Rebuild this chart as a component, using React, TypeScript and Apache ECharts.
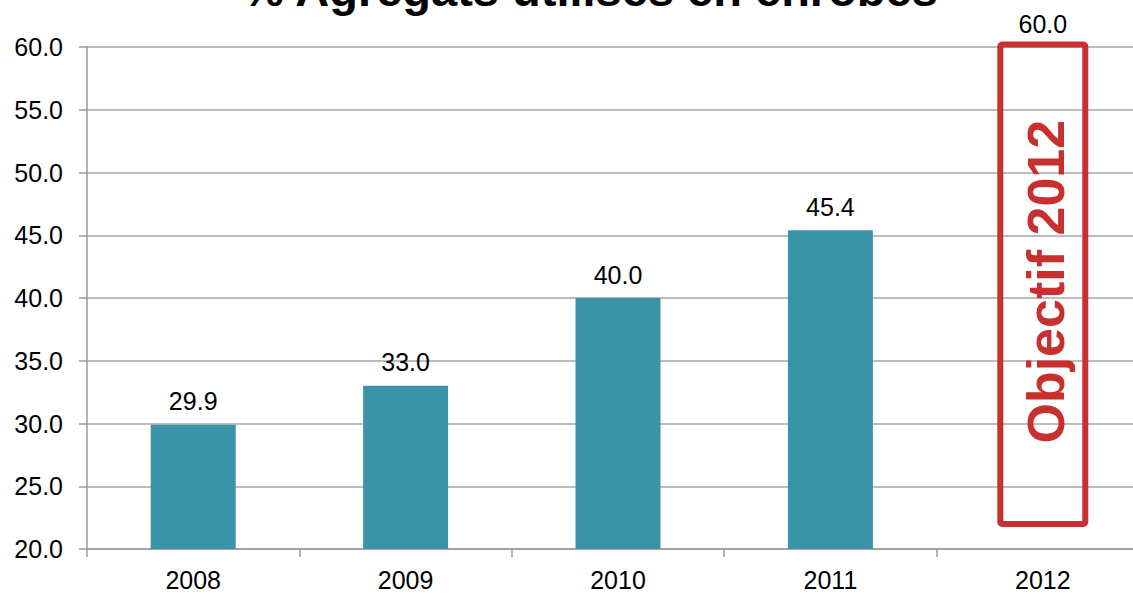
import React, { useEffect, useRef } from "react";
import * as echarts from "echarts";

const categories = ["2008", "2009", "2010", "2011", "2012"];
const values = [29.9, 33.0, 40.0, 45.4, 60.0];
const targetIndex = 4;
const yMin = 20;
const yMax = 60;
const yInterval = 5;
const titleText = "% Agrégats utilisés en enrobés";
const objectiveText = "Objectif 2012";
const objectiveBoxRange = [22.0, 60.2];
const objectiveTextValue = 41.3;

const FONT = "'Liberation Sans', Arial, sans-serif";
const BAR_COLOR = "#3A93A8";
const RED = "#C83030";

export default function App() {
  const ref = useRef<HTMLDivElement>(null);

  useEffect(() => {
    document.body.style.margin = "0";
    const chart = echarts.init(ref.current!, null, { renderer: "svg" });
    const option: any = {
      animation: false,
      backgroundColor: "#ffffff",
      grid: { left: 87, top: 47, width: 1062, height: 502, containLabel: false },
      xAxis: {
        type: "category",
        data: categories,
        boundaryGap: true,
        axisLine: { show: true, lineStyle: { color: "#9a9a9a", width: 1.5 } },
        axisTick: { show: true, alignWithLabel: false, length: 8, lineStyle: { color: "#9a9a9a", width: 1.5 } },
        axisLabel: { color: "#000", fontSize: 25, fontFamily: FONT, margin: 18 },
        splitLine: { show: false },
      },
      yAxis: {
        type: "value",
        min: yMin,
        max: yMax,
        interval: yInterval,
        axisLine: { show: true, lineStyle: { color: "#9a9a9a", width: 1.5 } },
        axisTick: { show: true, length: 8, lineStyle: { color: "#9a9a9a", width: 1.5 } },
        axisLabel: {
          color: "#000",
          fontSize: 25,
          fontFamily: FONT,
          margin: 24,
          formatter: (v: number) => v.toFixed(1),
        },
        splitLine: { show: true, lineStyle: { color: "#a6a6a6", width: 1.5 } },
      },
      series: [
        {
          type: "bar",
          barWidth: "40%",
          data: values.map((v, i) => ({
            value: v,
            itemStyle: { color: i === targetIndex ? "rgba(0,0,0,0)" : BAR_COLOR },
          })),
          label: {
            show: true,
            position: "top",
            distance: 11,
            color: "#000",
            fontSize: 25,
            fontFamily: FONT,
            formatter: (p: any) => Number(p.value).toFixed(1),
          },
        },
      ],
    };
    chart.setOption(option);

    const cx = chart.convertToPixel({ xAxisIndex: 0 }, categories[targetIndex]) as number;
    const c0 = chart.convertToPixel({ xAxisIndex: 0 }, categories[0]) as number;
    const c1 = chart.convertToPixel({ xAxisIndex: 0 }, categories[1]) as number;
    const barW = (c1 - c0) * 0.4;
    const yTop = chart.convertToPixel({ yAxisIndex: 0 }, objectiveBoxRange[1]) as number;
    const yBot = chart.convertToPixel({ yAxisIndex: 0 }, objectiveBoxRange[0]) as number;
    const yText = chart.convertToPixel({ yAxisIndex: 0 }, objectiveTextValue) as number;

    chart.setOption({
      graphic: [
        {
          type: "text",
          x: 590,
          y: -11,
          style: {
            text: titleText,
            fill: "#000",
            font: `bold 47px ${FONT}`,
            align: "center",
            verticalAlign: "middle",
          },
        },
        {
          type: "rect",
          shape: { x: cx - barW / 2, y: yTop, width: barW, height: yBot - yTop, r: 2 },
          style: { fill: "none", stroke: RED, lineWidth: 6 },
        },
        {
          type: "text",
          x: cx + 3,
          y: yText,
          rotation: Math.PI / 2,
          style: {
            text: objectiveText,
            fill: RED,
            font: `bold 52px ${FONT}`,
            align: "center",
            verticalAlign: "middle",
          },
        },
      ],
    });

    return () => chart.dispose();
  }, []);

  return (
    <div style={{ width: 1133, height: 594, overflow: "hidden", position: "relative" }}>
      <div ref={ref} style={{ width: 1160, height: 594 }} />
    </div>
  );
}
